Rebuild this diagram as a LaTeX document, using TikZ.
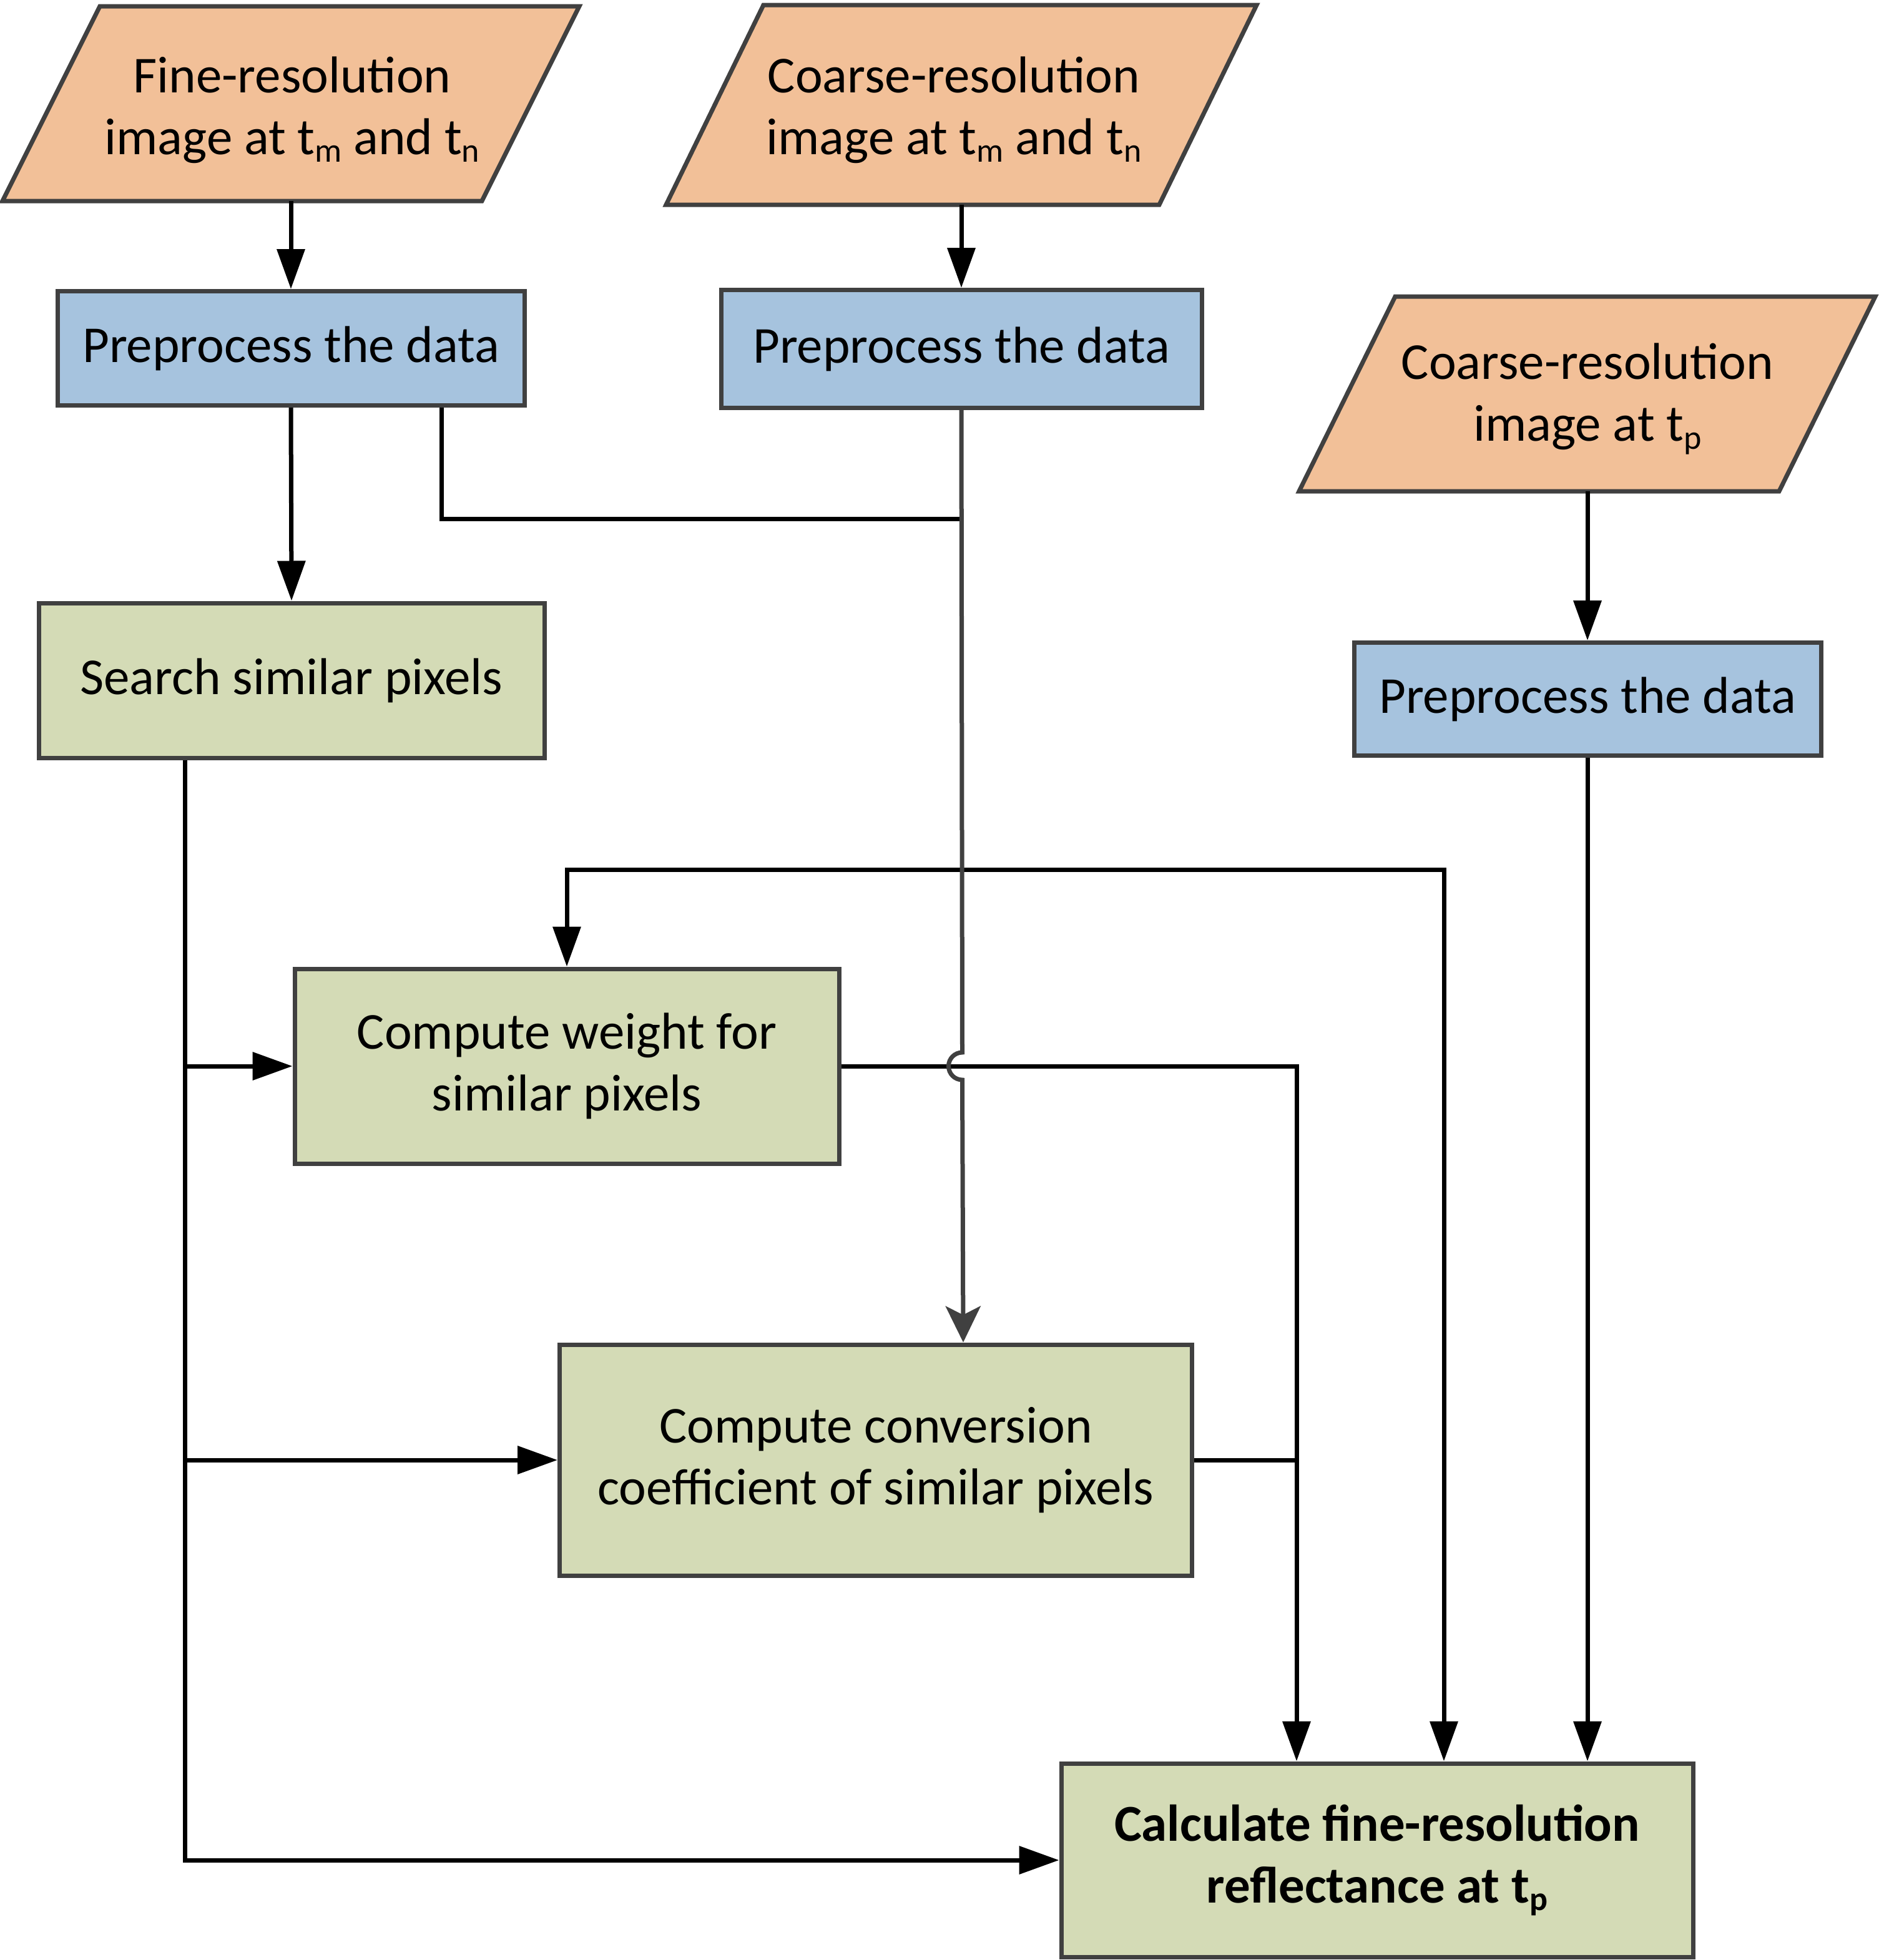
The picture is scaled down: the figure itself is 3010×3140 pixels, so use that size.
\documentclass[tikz,border=0pt]{standalone}
\usepackage{fontspec}
\setmainfont{Carlito}
\usetikzlibrary{arrows.meta,calc}
\definecolor{orangeF}{RGB}{242,192,152}
\definecolor{blueF}{RGB}{166,195,222}
\definecolor{greenF}{RGB}{212,219,182}
\definecolor{borderC}{RGB}{64,64,64}
\newcommand\lowsub[1]{\raisebox{-0.15em}{\fontsize{54}{60}\selectfont #1}}
\tikzset{
  every node/.style={font=\fontsize{83}{99}\selectfont},
  boxbase/.style={draw=borderC, line width=7pt, inner sep=0pt, align=center},
  bluebox/.style={boxbase, fill=blueF},
  greenbox/.style={boxbase, fill=greenF},
  para/.style={draw=borderC, line width=7pt, fill=orangeF, line join=miter},
  paratext/.style={inner sep=0pt, outer sep=0pt, align=center},
  bconn/.style={line width=7pt, black, -{Triangle[length=64pt,width=44pt]}},
  bline/.style={line width=7pt, black},
  gconn/.style={line width=7pt, borderC, -{Stealth[length=58pt,width=56pt,inset=14pt]}},
}
\begin{document}
\begin{tikzpicture}[x=1pt,y=1pt]
\useasboundingbox (0,0) rectangle (3010,-3140);
% parallelograms
\draw[para] (160,-10) -- (928,-10) -- (772,-322) -- (4,-322) -- cycle;
\node[paratext, minimum width=700, minimum height=312] (p1) at (466,-166) {};
\node[paratext] (p1t) at (468,-176) {Fine-resolution\\image at t\lowsub{m} and t\lowsub{n}};
\draw[para] (1223,-8) -- (2013,-8) -- (1857,-328) -- (1067,-328) -- cycle;
\node[paratext, minimum width=700, minimum height=320] (p2) at (1540,-168) {};
\node[paratext] (p2t) at (1528,-176) {Coarse-resolution\\image at t\lowsub{m} and t\lowsub{n}};
\draw[para] (2235,-475) -- (3004,-475) -- (2850,-787) -- (2081,-787) -- cycle;
\node[paratext, minimum width=700, minimum height=312] (p3) at (2543,-631) {};
\node[paratext] (p3t) at (2543,-639) {Coarse-resolution\\image at t\lowsub{p}};
% boxes
\node[bluebox, minimum width=748, minimum height=183] (b1) at (466,-558) {Preprocess the data};
\node[bluebox, minimum width=770, minimum height=189] (b2) at (1540,-559) {Preprocess the data};
\node[bluebox, minimum width=748, minimum height=181] (b3) at (2543,-1120) {Preprocess the data};
\node[greenbox, minimum width=810, minimum height=248] (g1) at (467,-1090) {Search similar pixels};
\node[greenbox, minimum width=872, minimum height=312] (g2) at (908,-1708) {Compute weight for\\similar pixels};
\node[greenbox, minimum width=1013, minimum height=370] (g3) at (1403,-2339) {Compute conversion\\coefficient of similar pixels};
\node[greenbox, minimum width=1012, minimum height=310] (g4) at (2206,-2980) {\bfseries Calculate fine-resolution\\\bfseries reflectance at t\lowsub{p}};
% helper coordinates
\coordinate (colj) at (707,0);
\coordinate (jn) at (1540,-831);
\coordinate (colt) at (296,0);
\coordinate (colc) at (2077,0);
\coordinate (loopr) at (2313,-1393);
% connectors
\draw[bconn] (p1.south) -- (b1.north);
\draw[bconn] (p2.south) -- (b2.north);
\draw[bconn] (p3.south) -- (b3.north);
\draw[bconn] (b1.south) -- (g1.north);
\draw[bline] (colj |- b1.south) -- (colj |- jn) -- (jn);
\draw[bconn] (b3.south) -- (b3.south |- g4.north);
\draw[{Triangle[length=64pt,width=44pt]}-{Triangle[length=64pt,width=44pt]}, line width=7pt, black]
  (g2.north) |- (loopr) -- (loopr |- g4.north);
\draw[bconn] (g2.east) -| (colc |- g4.north);
\draw[bline] (g3.east) -- (g3.east -| colc);
\draw[bconn] (colt |- g1.south) |- (g4.west);
\draw[bconn] (colt |- g2.west) -- (g2.west);
\draw[bconn] (colt |- g3.west) -- (g3.west);
\draw[gconn] (b2.south) -- ($(g2.east -| b2.south)+(1.5,22)$)
  arc[start angle=90, end angle=270, radius=22pt] -- ($(b2.south |- g3.north)+(3,0)$);
\end{tikzpicture}
\end{document}
